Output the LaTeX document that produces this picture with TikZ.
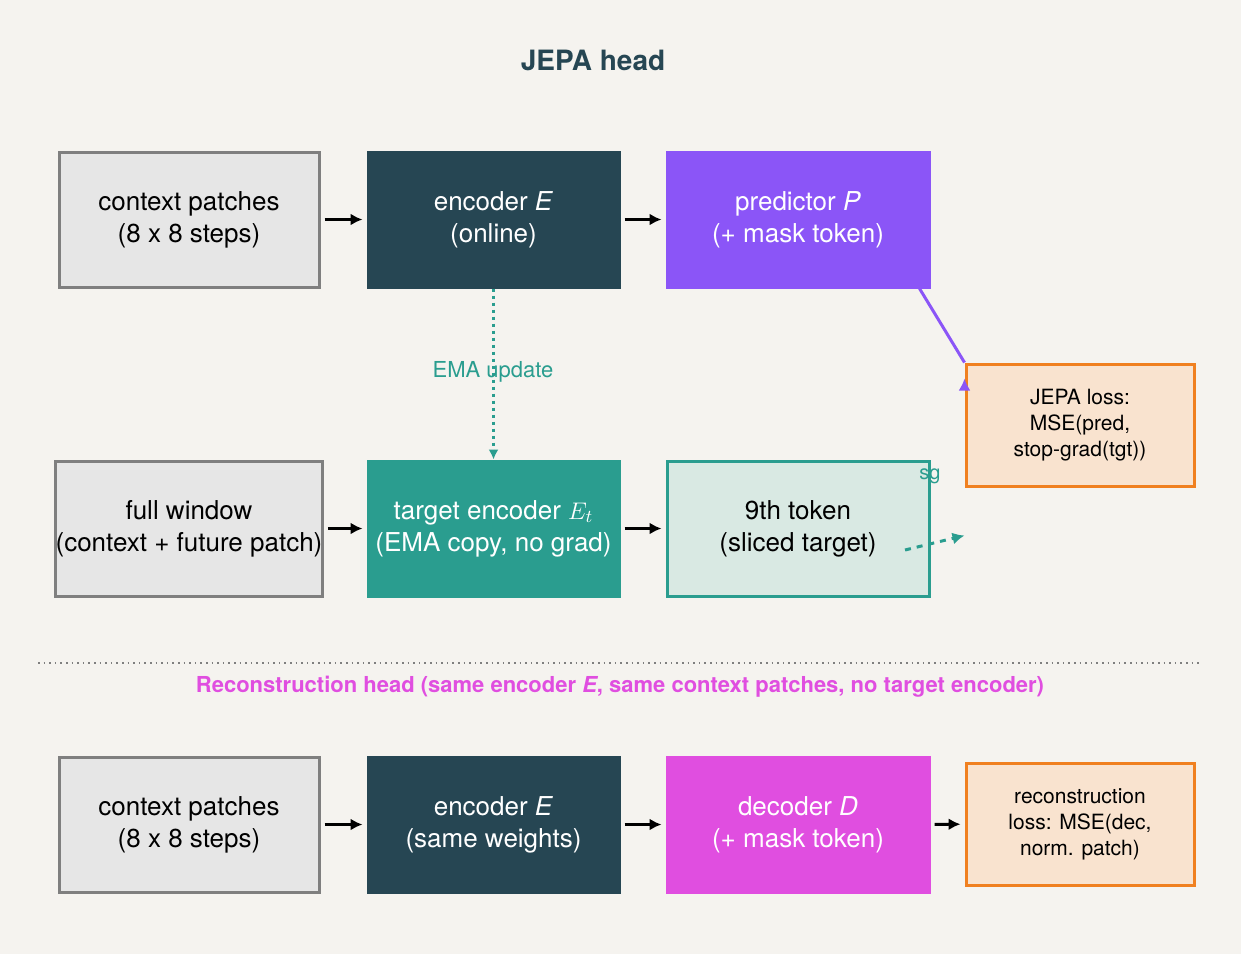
\documentclass[tikz,border=0pt]{standalone}
\usepackage{fontspec}
\setmainfont{TeX Gyre Heros}
\usetikzlibrary{arrows.meta}
\definecolor{bgc}{HTML}{F5F3EF}
\definecolor{grayfill}{HTML}{E6E6E6}
\definecolor{grayline}{HTML}{7F7F7F}
\definecolor{darkteal}{HTML}{264653}
\definecolor{purp}{HTML}{8B55F7}
\definecolor{teal}{HTML}{2A9D8F}
\definecolor{lightteal}{HTML}{D9E9E3}
\definecolor{orfill}{HTML}{F9E3CF}
\definecolor{orline}{HTML}{F08020}
\definecolor{magen}{HTML}{E04EE0}
\begin{document}
\begin{tikzpicture}
    [ x = .5pt, y = -.5pt
    , box/.style =
      { draw, line width=1.5pt, minimum height=67.5pt, align=center, font=\fontsize{13}{16}\selectfont, inner sep=0pt }
    , wide/.style = { minimum width=130pt }
    , mid/.style = { minimum width=125.5pt }
    , pred/.style = { minimum width=131pt }
    , lossbox/.style =
      { box, minimum width=114pt, minimum height=61pt, fill=orfill, draw=orline, font=\fontsize{10.5}{13}\selectfont }
    , input/.style = { box, wide, fill=grayfill, draw=grayline }
    , enc/.style = { box, mid, fill=darkteal, draw=darkteal, text=white }
    , flow/.style = { -{Latex[length=6pt,width=6pt]}, line width=1.5pt, shorten >=2pt, shorten <=2pt }
    ]
    \fill [bgc] (0,0) rectangle (1241,954);
    \node [font=\bfseries\fontsize{14}{17}\selectfont, text=darkteal] (title) at (593,60) {JEPA head};

    \node [input] (ctx) at (189,219.5) {context patches\\(8 x 8 steps)};
    \node [enc] (enc) at (493.5,219.5) {encoder \textit{E}\\(online)};
    \node [box, pred, fill=purp, draw=purp, text=white] (pred) at (798,219.5) {predictor \textit{P}\\(+ mask token)};
    \node [lossbox] (jloss) at (1080,425) {JEPA loss:\\MSE(pred,\\stop-grad(tgt))};

    \node [input] (full) at (189,528.5) {full window\\(context + future patch)};
    \node [box, mid, fill=teal, draw=teal, text=white] (tenc) at (493.5,528.5) {target encoder $E_t$\\(EMA copy, no grad)};
    \node [box, pred, fill=lightteal, draw=teal] (tok) at (798,528.5) {9th token\\(sliced target)};

    \draw [dotted, thick, grayline] (38,663) -- (1202,663);
    \node [font=\bfseries\fontsize{11}{14}\selectfont, text=magen] (rtitle) at (620,687) {Reconstruction head (same encoder \textit{E}, same context patches, no target encoder)};

    \node [input] (ctx2) at (189,824.5) {context patches\\(8 x 8 steps)};
    \node [enc] (enc2) at (493.5,824.5) {encoder \textit{E}\\(same weights)};
    \node [box, pred, fill=magen, draw=magen, text=white] (dec) at (798,824.5) {decoder \textit{D}\\(+ mask token)};
    \node [lossbox] (rloss) at (1080,824) {reconstruction\\loss: MSE(dec,\\norm. patch)};

    \draw [flow] (ctx) -- (enc);
    \draw [flow] (enc) -- (pred);
    \draw [flow] (full) -- (tenc);
    \draw [flow] (tenc) -- (tok);
    \draw [flow] (ctx2) -- (enc2);
    \draw [flow] (enc2) -- (dec);
    \draw [flow] (dec) -- (rloss);

    \draw [-{Latex[length=6pt,width=6pt]}, purp, line width=1.5pt] (pred.south east) ++(-11,0) -- (jloss.north west) ++(0,16);
    \coordinate (sgstart) at (905,550);
    \draw [-{Latex[length=6pt,width=6pt]}, teal, line width=1.5pt, dashed] (sgstart) -- ([yshift=-24]jloss.south west);
    \node [text=teal, font=\fontsize{10}{12}\selectfont] (sg) at (930,476) {sg};
    \draw [-{Latex[length=5pt,width=5pt]}, teal, line width=1.5pt, dotted] (enc) -- (tenc);
    \node [text=teal, font=\fontsize{11}{13}\selectfont] (ema) at (493,372) {EMA update};
\end{tikzpicture}
\end{document}
